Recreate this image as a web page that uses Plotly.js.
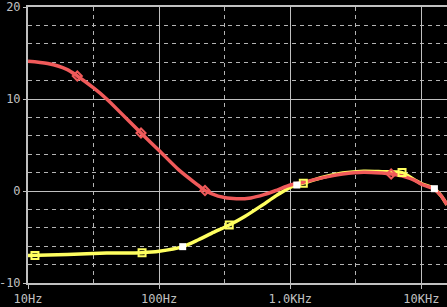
<!DOCTYPE html>
<html>
<head>
<meta charset="utf-8">
<script src="https://cdn.plot.ly/plotly-3.0.1.min.js"></script>
<style>
html,body{margin:0;padding:0;background:#000;}
#chart{width:447px;height:307px;}
</style>
</head>
<body>
<div id="chart"></div>
<script>
// Frequencies in Hz, read as log10 positions off the picture
const redLogF = [1.0, 1.15, 1.3, 1.376, 1.5, 1.6, 1.7, 1.862, 2.0, 2.15, 2.3, 2.35, 2.45, 2.59, 2.7, 2.8, 2.9, 3.0, 3.1, 3.25, 3.4, 3.56, 3.7, 3.77, 3.85, 3.95, 4.0, 4.1, 4.15, 4.196];
const redVals = [14.1, 13.85, 13.2, 12.5, 11.2, 10.0, 8.6, 6.3, 4.4, 2.3, 0.6, 0.05, -0.55, -0.85, -0.75, -0.4, 0.1, 0.65, 0.95, 1.45, 1.85, 2.05, 1.95, 1.85, 1.65, 1.15, 0.75, 0.2, -0.5, -1.5];

const yelLogF = [1.0, 1.3, 1.6, 1.87, 2.0, 2.18, 2.3, 2.4, 2.535, 2.65, 2.77, 2.9, 3.0, 3.05, 3.1, 3.25, 3.4, 3.56, 3.7, 3.853, 3.95, 4.0, 4.1, 4.15, 4.196];
const yelVals = [-7.0, -6.9, -6.75, -6.7, -6.55, -6.05, -5.3, -4.6, -3.7, -2.8, -1.7, -0.45, 0.4, 0.65, 0.85, 1.5, 1.95, 2.15, 2.1, 2.0, 1.2, 0.8, 0.25, -0.5, -1.5];

const redMarkLogF = [1.376, 1.862, 2.35, 3.77];
const redMarkVals = [12.5, 6.3, 0.05, 1.85];
const yelMarkLogF = [1.053, 1.87, 2.535, 3.1, 3.853];
const yelMarkVals = [-7.0, -6.7, -3.7, 0.85, 2.0];
const whiteMarkLogF = [2.18, 3.05, 4.1];
const whiteMarkVals = [-6.05, 0.65, 0.25];

const xTickVals = [10, 100, 1000, 10000];
const xTickText = ['10Hz', '100Hz', '1.0KHz', '10KHz'];
const xMinorVals = [31.62, 316.2, 3162];
const yTickVals = [-10, 0, 10, 20];
const yTickText = ['-10', '0', '10', '20'];

const toHz = a => a.map(v => Math.pow(10, v));

const RED = '#f05a5a';
const YEL = '#ffff60';

const traces = [
  {x: toHz(yelLogF), y: yelVals, mode: 'lines', line: {color: YEL, width: 3.5, shape: 'spline', smoothing: 0.8}, hoverinfo: 'skip'},
  {x: toHz(redLogF), y: redVals, mode: 'lines', line: {color: RED, width: 3.5, shape: 'spline', smoothing: 0.8}, hoverinfo: 'skip'},
  {x: toHz(redMarkLogF), y: redMarkVals, mode: 'markers', marker: {symbol: 'diamond-open', size: 7, color: RED, line: {width: 2, color: RED}}},
  {x: toHz(yelMarkLogF), y: yelMarkVals, mode: 'markers', marker: {symbol: 'square-open', size: 7, color: YEL, line: {width: 2, color: YEL}}},
  {x: toHz(whiteMarkLogF), y: whiteMarkVals, mode: 'markers', marker: {symbol: 'square', size: 7, color: '#ffffff'}}
];

const tickFont = {family: 'DejaVu Sans Mono', size: 12, color: '#c0c0c0'};

const layout = {
  width: 447, height: 307,
  margin: {l: 28, r: 0, t: 7, b: 24, pad: 0},
  paper_bgcolor: '#000', plot_bgcolor: '#000',
  showlegend: false,
  xaxis: {
    type: 'log', range: [1, 4.196],
    tickmode: 'array', tickvals: xTickVals, ticktext: xTickText,
    tickfont: tickFont, ticklabeloverflow: 'allow',
    showgrid: true, gridcolor: '#c0c0c0', gridwidth: 1,
    ticks: 'outside', ticklen: 4, tickcolor: '#c0c0c0',
    showline: true, linecolor: '#c0c0c0', linewidth: 2, mirror: true,
    zeroline: false,
    minor: {tickmode: 'array', tickvals: xMinorVals, showgrid: true, gridcolor: '#b4b4b4', griddash: '4px,4px', gridwidth: 1, ticks: ''}
  },
  yaxis: {
    range: [-10, 20],
    tickmode: 'array', tickvals: yTickVals, ticktext: yTickText,
    tickfont: tickFont, ticklabeloverflow: 'allow',
    showgrid: true, gridcolor: '#c0c0c0', gridwidth: 1,
    ticks: 'outside', ticklen: 3, tickcolor: '#c0c0c0',
    showline: true, linecolor: '#c0c0c0', linewidth: 2, mirror: false,
    zeroline: false,
    minor: {dtick: 2, tick0: 0, showgrid: true, gridcolor: '#b4b4b4', griddash: '4px,4px', gridwidth: 1, ticks: ''}
  }
};

Plotly.newPlot('chart', traces, layout, {displayModeBar: false, staticPlot: true});
</script>
</body>
</html>
